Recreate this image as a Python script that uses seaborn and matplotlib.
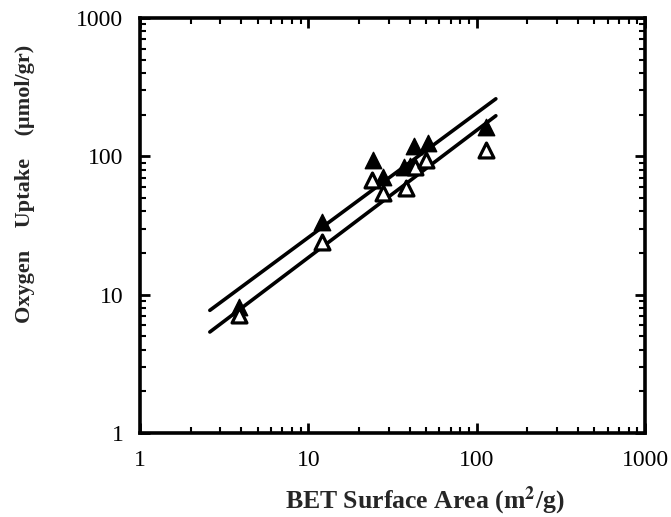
import numpy as np
import pandas as pd
import matplotlib
matplotlib.use("Agg")
import matplotlib.pyplot as plt
import seaborn as sns
from matplotlib.ticker import LogLocator, NullFormatter, FixedLocator, FixedFormatter

# BET surface area (m2/g) and oxygen uptake (umol/gr)
filled_area   = [3.9, 12.0, 24.1, 27.7, 37.2, 40.0, 42.7, 51.2, 113.7]
filled_uptake = [8.2, 33.7, 94.0, 71.0, 84.0, 85.0, 118.0, 124.0, 164.0]
open_area     = [3.9, 12.0, 23.8, 27.9, 38.1, 43.0, 50.0, 113.7]
open_uptake   = [7.1, 24.1, 67.0, 54.0, 58.6, 84.0, 94.0, 111.0]

# power-law fit lines y = a * x^b over the drawn range
fit_names = ["upper", "lower"]
fit_a     = [3.26, 2.23]
fit_b     = [0.90, 0.92]
fit_x     = [2.6, 130.0]

sns.set_style("ticks")
plt.rcParams["font.family"] = ["Liberation Serif", "DejaVu Serif"]
plt.rcParams["mathtext.fontset"] = "stix"

fig = plt.figure(figsize=(6.71, 5.17), dpi=100)
ax = fig.add_axes([0.2086, 0.1625, 0.7527, 0.8027])

xs = np.array(fit_x)
for name, a, b in zip(fit_names, fit_a, fit_b):
    line = pd.DataFrame({"x": xs, "y": a * xs ** b})
    sns.lineplot(data=line, x="x", y="y", ax=ax, color="black", linewidth=2.6)

df_f = pd.DataFrame({"x": filled_area, "y": filled_uptake})
df_o = pd.DataFrame({"x": open_area, "y": open_uptake})
sns.scatterplot(data=df_f, x="x", y="y", ax=ax, marker="^", s=140,
                color="black", edgecolor="black", linewidth=1, zorder=3)
sns.scatterplot(data=df_o, x="x", y="y", ax=ax, marker="^", s=115,
                facecolor="white", edgecolor="black", linewidth=2.3, zorder=3)

ax.set_xscale("log")
ax.set_yscale("log")
ax.set_xlim(1, 1000)
ax.set_ylim(1, 1000)

major = [1, 10, 100, 1000]
labels = ["1", "10", "100", "1000"]
ax.xaxis.set_major_locator(FixedLocator(major))
ax.xaxis.set_major_formatter(FixedFormatter(labels))
ax.yaxis.set_major_locator(FixedLocator(major))
ax.yaxis.set_major_formatter(FixedFormatter(labels))
ax.xaxis.set_minor_locator(LogLocator(base=10, subs=np.arange(2, 10)))
ax.yaxis.set_minor_locator(LogLocator(base=10, subs=np.arange(2, 10)))
ax.xaxis.set_minor_formatter(NullFormatter())
ax.yaxis.set_minor_formatter(NullFormatter())

ax.tick_params(which="both", direction="in", top=True, right=True, colors="black")
ax.tick_params(which="major", length=7, width=2, labelsize=17, pad=12)
ax.tick_params(which="minor", length=4, width=1.5)
for sp in ax.spines.values():
    sp.set_linewidth(2.6)
    sp.set_color("black")

ax.set_xlabel("BET Surface Area (m$^{\\mathbf{2}}$/g)", fontsize=18.5, fontweight="bold")
ax.set_ylabel("Oxygen    Uptake    (\u03bcmol/gr)", fontsize=16, fontweight="bold")
ax.xaxis.set_label_coords(0.564, -0.125)
ax.yaxis.set_label_coords(-0.208, 0.6)

fig.savefig("out.png", dpi=100)
plt.close(fig)
